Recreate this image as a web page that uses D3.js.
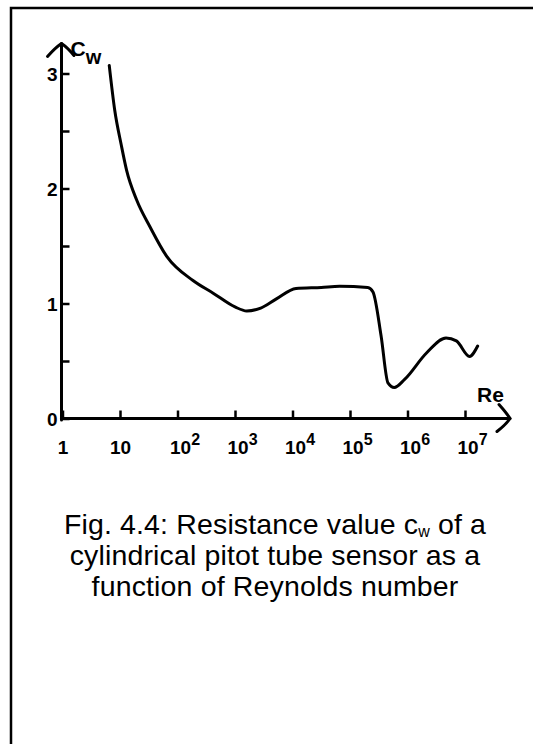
<!DOCTYPE html>
<html>
<head>
<meta charset="utf-8">
<script src="https://cdn.jsdelivr.net/npm/d3@7"></script>
<style>
  html, body { margin: 0; padding: 0; background: #fff; }
  svg { display: block; }
</style>
</head>
<body>
<svg id="chart" width="533" height="744"></svg>
<script>
// drag coefficient c_w of a cylinder against Reynolds number
const reValues = [6.5, 8.1, 10.5, 13, 19.5, 33, 65, 186, 417, 1000, 1600, 2800, 5250,
  11500, 31600, 66000, 204000, 251000, 347000, 457000, 589000, 891000,
  2140000, 4680000, 7080000, 12000000, 16600000];
const cwValues = [3.07, 2.68, 2.38, 2.16, 1.90, 1.67, 1.41, 1.20, 1.09, 0.97, 0.935, 0.96, 1.04,
  1.13, 1.14, 1.15, 1.14, 1.10, 0.72, 0.31, 0.27, 0.34,
  0.57, 0.70, 0.675, 0.54, 0.63];

const xTicks = [1, 10, 1e2, 1e3, 1e4, 1e5, 1e6, 1e7];
const yTicks = [0, 0.5, 1, 1.5, 2, 2.5, 3];
const captionLines = [
  ["Fig. 4.4: Resistance value c", "w", " of a"],
  ["cylindrical pitot tube sensor as a"],
  ["function of Reynolds number"]
];

const FONT = "Liberation Sans, Arial, Helvetica, sans-serif";

const svg = d3.select("#chart");

// frame (top and left edges only)
svg.append("path")
  .attr("d", "M11,744V8H533")
  .attr("fill", "none")
  .attr("stroke", "#000")
  .attr("stroke-width", 2.5);

const x = d3.scaleLog().domain([1, 1e7]).range([62.5, 465]);
const y = d3.scaleLinear().domain([0, 3]).range([418.5, 73.5]);

const xEnd = x.range()[1] + 45;
const yEnd = y.range()[1] - 30;

function boldText(sel, size) {
  sel.attr("fill", "#000")
    .attr("font-family", FONT)
    .attr("font-weight", "bold")
    .attr("font-size", size);
}

// x axis ticks + labels
const gx = svg.append("g")
  .attr("transform", `translate(0,${y(0)})`)
  .call(d3.axisBottom(x)
    .tickValues(xTicks)
    .tickSize(-8)
    .tickPadding(22)
    .tickFormat(""));
gx.attr("font-size", null).attr("font-family", null);
gx.select(".domain").remove();
gx.selectAll(".tick line").attr("stroke", "#000").attr("stroke-width", 2.5);
gx.selectAll(".tick text")
  .call(boldText, 19)
  .each(function(d) {
    const t = d3.select(this);
    const p = Math.round(Math.log10(d));
    if (p < 2) {
      t.text(d);
    } else {
      t.attr("text-anchor", "start").attr("x", -8);
      t.append("tspan").text("10");
      t.append("tspan").attr("dy", -9).attr("font-size", 16).text(p);
    }
  });

// y axis ticks + labels
const gy = svg.append("g")
  .attr("transform", `translate(${x(1) - 1},0)`)
  .call(d3.axisLeft(y)
    .tickValues(yTicks)
    .tickSize(-8)
    .tickPadding(4)
    .tickFormat(d => Number.isInteger(d) ? d : ""));
gy.attr("font-size", null).attr("font-family", null);
gy.select(".domain").remove();
gy.selectAll(".tick line").attr("stroke", "#000").attr("stroke-width", 2.5);
gy.selectAll(".tick text")
  .call(boldText, 19)
  .attr("dy", "0.38em");

// axis lines with open arrow heads
const axes = svg.append("g")
  .attr("fill", "none")
  .attr("stroke", "#000")
  .attr("stroke-width", 3)
  .attr("stroke-linecap", "round")
  .attr("stroke-linejoin", "round");

axes.append("line")
  .attr("x1", x(1) - 1).attr("y1", y(0))
  .attr("x2", xEnd).attr("y2", y(0));
axes.append("path")
  .attr("transform", `translate(${xEnd},${y(0)})`)
  .attr("d", "M-11,-14Q-3,-5 0,0Q-4,6 -13,13");

axes.append("line")
  .attr("x1", x(1) - 1).attr("y1", y(0) + 1.5)
  .attr("x2", x(1) - 1).attr("y2", yEnd);
axes.append("path")
  .attr("transform", `translate(${x(1) - 1},${yEnd})`)
  .attr("d", "M-14,13Q-6,4 0,0Q6,4 12.5,12");

// axis titles
svg.append("text")
  .attr("x", x(1) + 8).attr("y", yEnd + 12)
  .call(boldText, 21)
  .call(t => t.append("tspan").text("C"))
  .call(t => t.append("tspan").attr("dy", 8).attr("font-size", 20).text("w"));

svg.append("text")
  .attr("x", xEnd - 33).attr("y", y(0) - 17)
  .call(boldText, 21)
  .text("Re");

// curve
const line = d3.line()
  .x(d => x(d[0]))
  .y(d => y(d[1]))
  .curve(d3.curveMonotoneX);

svg.append("path")
  .datum(d3.zip(reValues, cwValues))
  .attr("fill", "none")
  .attr("stroke", "#000")
  .attr("stroke-width", 3)
  .attr("stroke-linejoin", "round")
  .attr("stroke-linecap", "round")
  .attr("d", line);

// caption
const cap = svg.append("text")
  .attr("text-anchor", "middle")
  .attr("font-family", FONT)
  .attr("font-size", 28.5)
  .attr("letter-spacing", 0.15)
  .attr("fill", "#000");
captionLines.forEach((parts, i) => {
  const ln = cap.append("tspan").attr("x", 275).attr("y", 534 + i * 31);
  if (parts.length === 1) {
    ln.text(parts[0]);
  } else {
    ln.append("tspan").text(parts[0]);
    ln.append("tspan").attr("dy", 3).attr("font-size", 16).text(parts[1]);
    ln.append("tspan").attr("dy", -3).text(parts[2]);
  }
});
</script>
</body>
</html>
